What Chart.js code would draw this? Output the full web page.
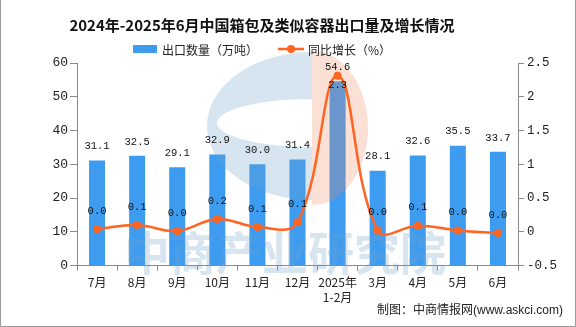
<!DOCTYPE html>
<html>
<head>
<meta charset="utf-8">
<script src="https://cdn.jsdelivr.net/npm/chart.js@4.4.1/dist/chart.umd.min.js"></script>
<style>
  html, body { margin: 0; padding: 0; background: #fff; }
  #wrap { width: 576px; height: 327px; }
</style>
</head>
<body>
<div id="wrap"><canvas id="chart" width="576" height="327"></canvas></div>
<script>
// Data
const months = ["7月", "8月", "9月", "10月", "11月", "12月", ["2025年", "1-2月"], "3月", "4月", "5月", "6月"];
const exportVolume = [31.1, 32.5, 29.1, 32.9, 30.0, 31.4, 54.6, 28.1, 32.6, 35.5, 33.7];
const yoyGrowth = [0.04, 0.1, 0.01, 0.19, 0.07, 0.14, 2.31, 0.02, 0.09, 0.02, -0.02];

const titleText = "2024年-2025年6月中国箱包及类似容器出口量及增长情况";
const barName = "出口数量（万吨）";
const lineName = "同比增长（%）";
const sourceText = "制图：中商情报网(www.askci.com)";

const barColor = "#3e9cf0";
const lineColor = "#ff6420";
const axisColor = "#8a8a8a";
const cjk = "'Noto Sans CJK SC', 'Noto Sans', sans-serif";
const mono = "'Liberation Mono', 'DejaVu Sans Mono', monospace";

Chart.defaults.font.family = cjk;
Chart.defaults.color = "#222";

function fmt(v) {
  let s = v.toFixed(1);
  if (s === "-0.0") s = "0.0";
  return s;
}

// ------------------- watermark -------------------
function drawWatermark(ctx) {
  ctx.save();
  // blue "C"
  ctx.fillStyle = "rgba(110,160,200,0.28)";
  ctx.beginPath();
  ctx.ellipse(312, 126, 105, 74, 0, Math.PI / 2, Math.PI * 1.5);
  ctx.closePath();
  ctx.moveTo(312, 147);
  ctx.ellipse(312, 123, 95, 24, 0, Math.PI / 2, Math.PI * 1.5);
  ctx.closePath();
  ctx.fill("evenodd");
  // orange "D"
  ctx.fillStyle = "rgba(240,130,90,0.25)";
  ctx.beginPath();
  ctx.ellipse(312, 128, 56, 77, 0, -Math.PI / 2, Math.PI / 2);
  ctx.closePath();
  ctx.fill();
  // text
  ctx.fillStyle = "rgba(110,160,200,0.28)";
  ctx.font = "bold 46px " + cjk;
  ctx.textAlign = "center";
  ctx.textBaseline = "middle";
  ctx.fillText("中商产业研究院", 285, 253);
  ctx.restore();
}

// ------------------- decorations plugin -------------------
const decor = {
  id: "decor",
  afterDatasetDraw(chart, args) {
    if (args.index === 0) drawWatermark(chart.ctx);
  },
  afterDraw(chart) {
    const ctx = chart.ctx;
    ctx.save();

    // title
    ctx.fillStyle = "#111";
    ctx.font = "bold 15px " + cjk;
    ctx.textAlign = "center";
    ctx.textBaseline = "middle";
    ctx.fillText(titleText, 262, 25);

    // legend
    ctx.font = "12px " + cjk;
    ctx.textAlign = "left";
    ctx.fillStyle = barColor;
    ctx.fillRect(133, 45, 24, 8);
    ctx.fillStyle = "#222";
    ctx.fillText(barName, 162, 50);
    ctx.strokeStyle = lineColor;
    ctx.lineWidth = 2.5;
    ctx.beginPath();
    ctx.moveTo(278, 49);
    ctx.lineTo(304, 49);
    ctx.stroke();
    ctx.fillStyle = lineColor;
    ctx.beginPath();
    ctx.arc(291, 49, 4, 0, Math.PI * 2);
    ctx.fill();
    ctx.fillStyle = "#222";
    ctx.fillText(lineName, 308, 50);

    // value labels
    ctx.font = "10.5px " + mono;
    ctx.textAlign = "center";
    ctx.fillStyle = "#111";
    const area = chart.chartArea;
    chart.getDatasetMeta(0).data.forEach((bar, i) => {
      ctx.fillText(fmt(exportVolume[i]), bar.x, bar.y - 14);
    });
    chart.getDatasetMeta(1).data.forEach((pt, i) => {
      let y = pt.y - 18;
      if (y < area.top + 8) y = pt.y + 9;
      ctx.fillText(fmt(yoyGrowth[i]), pt.x, y);
    });

    // source
    ctx.font = "12px 'Liberation Sans', " + cjk;
    ctx.textAlign = "right";
    ctx.fillStyle = "#222";
    ctx.fillText(sourceText, 563, 311);

    // frame
    ctx.strokeStyle = "#9a9a9a";
    ctx.lineWidth = 1;
    ctx.beginPath();
    ctx.moveTo(0.5, 0);
    ctx.lineTo(0.5, 326.5);
    ctx.lineTo(575.5, 326.5);
    ctx.lineTo(575.5, 0);
    ctx.stroke();

    ctx.restore();
  }
};

// ------------------- chart -------------------
new Chart(document.getElementById("chart"), {
  type: "bar",
  data: {
    labels: months,
    datasets: [
      {
        type: "bar",
        label: barName,
        data: exportVolume,
        backgroundColor: barColor,
        barPercentage: 0.4,
        categoryPercentage: 1,
        yAxisID: "y",
        order: 1
      },
      {
        type: "line",
        label: lineName,
        data: yoyGrowth,
        borderColor: lineColor,
        backgroundColor: lineColor,
        borderWidth: 2.5,
        pointRadius: 4,
        pointBackgroundColor: lineColor,
        pointBorderWidth: 0,
        tension: 0.4,
        clip: false,
        yAxisID: "y1",
        order: 0
      }
    ]
  },
  options: {
    responsive: false,
    animation: false,
    devicePixelRatio: 1,
    layout: { padding: { top: 63, left: 0, right: 0, bottom: 0 } },
    plugins: {
      legend: { display: false },
      title: { display: false },
      tooltip: { enabled: false }
    },
    scales: {
      x: {
        grid: { display: true, drawOnChartArea: false, tickLength: 5, color: axisColor },
        border: { color: axisColor },
        ticks: { font: { size: 12 }, padding: 5, color: "#222", maxRotation: 0, autoSkip: false },
        afterFit: s => { s.height = 61.5; }
      },
      y: {
        position: "left",
        min: 0,
        max: 60,
        ticks: { stepSize: 10, font: { size: 13, family: mono }, padding: 2, color: "#222" },
        grid: { drawOnChartArea: false, tickLength: 7, color: axisColor },
        border: { color: axisColor },
        afterFit: s => { s.width = 77; }
      },
      y1: {
        position: "right",
        min: -0.5,
        max: 2.5,
        ticks: {
          stepSize: 0.5,
          font: { size: 12.5, family: mono },
          padding: 3,
          color: "#222",
          callback: v => String(Number(v.toFixed(1)))
        },
        grid: { drawOnChartArea: false, tickLength: 6, color: axisColor },
        border: { color: axisColor },
        afterFit: s => { s.width = 58; }
      }
    }
  },
  plugins: [decor]
});
</script>
</body>
</html>
